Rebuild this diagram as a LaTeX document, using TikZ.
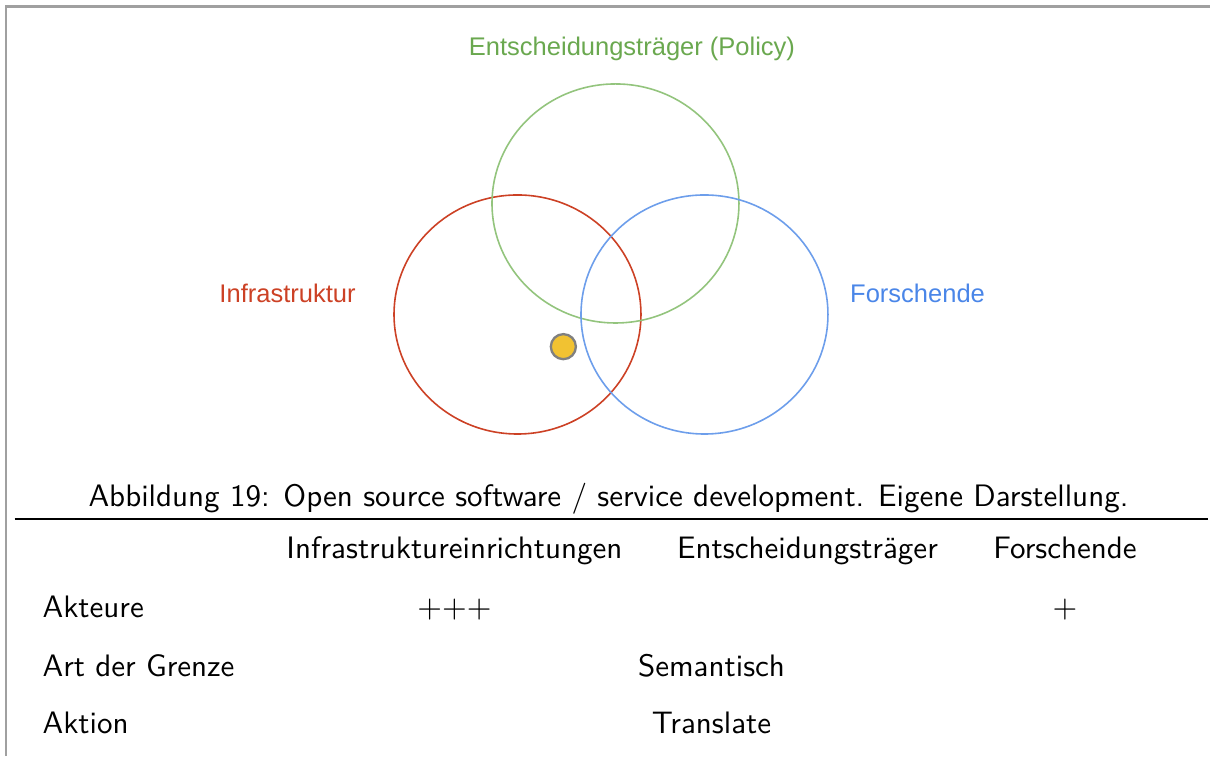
\documentclass[tikz,border=0pt]{standalone}
\usepackage{fontspec}
\newfontfamily\labelfont{Liberation Sans}
\definecolor{infraRed}{HTML}{CC4125}
\definecolor{policyGreen}{HTML}{6AA84F}
\definecolor{policyLine}{HTML}{93C47D}
\definecolor{researchBlue}{HTML}{4A86E8}
\definecolor{researchLine}{HTML}{6D9EEB}
\definecolor{dotYellow}{HTML}{F1C232}
\definecolor{frameGray}{HTML}{A0A0A0}
\begin{document}
\begin{tikzpicture}
\useasboundingbox (0,0) rectangle (14.67,9.166);
\tikzset{
  setlabel/.style={font=\labelfont\fontsize{8.8}{10}\selectfont, inner sep=0pt},
  setline/.style={line width=0.55pt},
  tabcell/.style={font=\sffamily\fontsize{10.7}{12.8}\selectfont, inner sep=0pt, anchor=base}
}
% frame
\draw[frameGray, line width=0.7pt] (0.073,0) -- (0.073,9.087) -- (14.67,9.087);
% the three sets
\draw[setline, infraRed] (6.274,5.353) ellipse [x radius=1.497, y radius=1.449];
\draw[setline, policyLine] (7.462,6.699) ellipse [x radius=1.497, y radius=1.449];
\draw[setline, researchLine] (8.541,5.353) ellipse [x radius=1.497, y radius=1.449];
\filldraw[fill=dotYellow, draw=gray, line width=0.8pt] (6.830,4.963) circle (0.152);
\node[setlabel, text=policyGreen] (policy) at (7.662,8.572) {Entscheidungsträger (Policy)};
\node[setlabel, text=infraRed] (infra) at (3.486,5.614) {Infrastruktur};
\node[setlabel, text=researchBlue] (research) at (11.124,5.614) {Forschende};
% caption and table
\node[tabcell] (caption) at (7.377,3.031) {Abbildung 19: Open source software / service development. Eigene Darstellung.};
\draw[line width=0.6pt] (0.176,2.870) -- (14.646,2.870);
\foreach \x/\lab/\name in {5.510/Infrastruktureinrichtungen/colInfra,9.790/Entscheidungsträger/colPolicy,12.912/Forschende/colResearch}{
  \node[tabcell] (\name) at (\x,2.389) {\lab};
}
\foreach \y/\lab/\name in {1.677/Akteure/rowActors,0.970/Art der Grenze/rowBorder,0.267/Aktion/rowAction}{
  \node[tabcell, anchor=base west] (\name) at (0.509,\y) {\lab};
}
\node[tabcell] (actorsInfra) at (5.510,1.677) {${+}{+}{+}$};
\node[tabcell] (actorsResearch) at (12.912,1.677) {$+$};
\node[tabcell] (border) at (8.626,0.970) {Semantisch};
\node[tabcell] (action) at (8.626,0.267) {Translate};
\end{tikzpicture}
\end{document}
